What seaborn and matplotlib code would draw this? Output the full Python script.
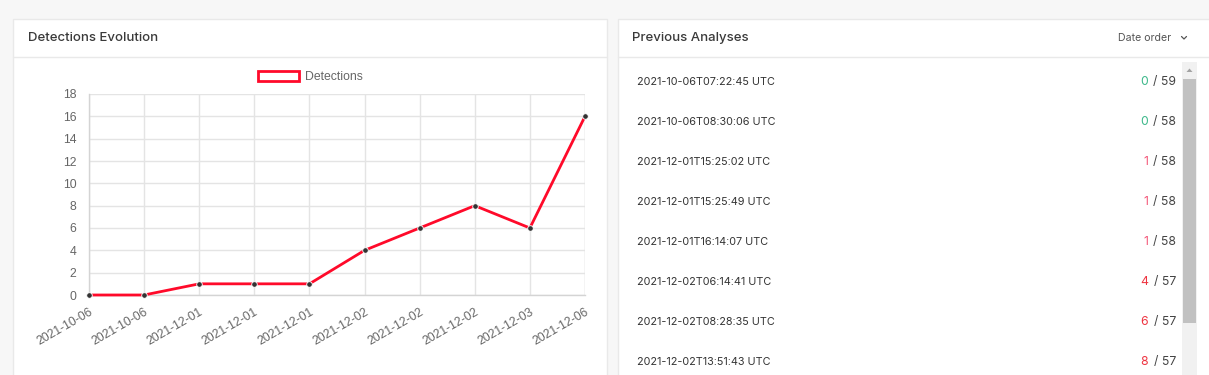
import matplotlib
matplotlib.use("Agg")
import matplotlib.pyplot as plt
import seaborn as sns
import pandas as pd
from matplotlib.patches import Rectangle, Patch, Polygon

# ---------------- data ----------------
dates = ["2021-10-06", "2021-10-06", "2021-12-01", "2021-12-01", "2021-12-01",
         "2021-12-02", "2021-12-02", "2021-12-02", "2021-12-03", "2021-12-06"]
detections = [0, 0, 1, 1, 1, 4, 6, 8, 6, 16]
y_ticks = [0, 2, 4, 6, 8, 10, 12, 14, 16, 18]

analysis_times = ["2021-10-06T07:22:45 UTC", "2021-10-06T08:30:06 UTC",
                  "2021-12-01T15:25:02 UTC", "2021-12-01T15:25:49 UTC",
                  "2021-12-01T16:14:07 UTC", "2021-12-02T06:14:41 UTC",
                  "2021-12-02T08:28:35 UTC", "2021-12-02T13:51:43 UTC"]
analysis_detected = [0, 0, 1, 1, 1, 4, 6, 8]
analysis_total = [59, 58, 58, 58, 58, 57, 57, 57]

panel_left_title = "Detections Evolution"
panel_right_title = "Previous Analyses"
sort_label = "Date order"
series_name = "Detections"

# ---------------- style ----------------
sns.set_theme(style="white")
plt.rcParams["font.family"] = ["Liberation Sans", "DejaVu Sans"]

W, H = 1209, 375
fig = plt.figure(figsize=(W / 100, H / 100), dpi=100)
fig.patch.set_facecolor("#f7f7f7")

# background layer in pixel coordinates
bg = fig.add_axes([0, 0, 1, 1], zorder=-10)
bg.set_xlim(0, W)
bg.set_ylim(H, 0)
bg.axis("off")

border = "#e9e9e9"
# left panel
bg.add_patch(Rectangle((13, 19), 594, 370, facecolor="white", edgecolor=border, lw=1))
bg.plot([13, 607], [56.5, 56.5], color=border, lw=1)
# right panel
bg.add_patch(Rectangle((618, 19), 600, 370, facecolor="white", edgecolor=border, lw=1))
bg.plot([618, 1209], [56.5, 56.5], color=border, lw=1)

title_font = ["Inter", "DejaVu Sans"]
bg.text(28, 38, panel_left_title, fontsize=9.5, color="#3a3a3a", va="center", ha="left",
        family=title_font, fontweight="medium")
bg.text(632, 38, panel_right_title, fontsize=9.5, color="#3a3a3a", va="center", ha="left",
        family=title_font, fontweight="medium")
bg.text(1171, 38, sort_label, fontsize=7.6, color="#555555", va="center", ha="right",
        family=title_font)
bg.plot([1181.5, 1184, 1186.5], [36.5, 39, 36.5], color="#555555", lw=0.9)

# scrollbar
bg.add_patch(Rectangle((1182, 62), 15, 320, facecolor="#f1f1f1", edgecolor="none"))
bg.add_patch(Rectangle((1183, 79), 13, 244, facecolor="#c1c1c1", edgecolor="none"))
bg.add_patch(Polygon([[1186.5, 72], [1192.5, 72], [1189.5, 68.5]], facecolor="#a3a3a3",
                     edgecolor="none"))

# rows of previous analyses
def det_color(v):
    if v == 0:
        return "#3cb88a"
    if v <= 2:
        return "#f4587a"
    return "#ee3340"

row_y0, row_dy = 82, 40
for i, (t, d, tot) in enumerate(zip(analysis_times, analysis_detected, analysis_total)):
    yy = row_y0 + i * row_dy
    bg.text(637, yy, t, fontsize=7.8, color="#333333", va="center", ha="left",
            family=title_font)
    bg.text(1176, yy, f"/ {tot}", fontsize=8.8, color="#444444", va="center", ha="right",
            family=title_font)
    bg.text(1148, yy, f"{d}", fontsize=8.8, color=det_color(d), va="center", ha="right",
            family=title_font)

# ---------------- chart ----------------
ax_l, ax_r, ax_t, ax_b = 89, 585, 94, 295
ax = fig.add_axes([ax_l / W, 1 - ax_b / H, (ax_r - ax_l) / W, (ax_b - ax_t) / H])
ax.set_facecolor("white")

df = pd.DataFrame({"idx": range(len(detections)), "value": detections})
line_color = "#ff0a2a"
sns.lineplot(data=df, x="idx", y="value", ax=ax, color=line_color, lw=2,
             marker="o", markersize=4, markerfacecolor="#333333",
             markeredgecolor="white", markeredgewidth=0.6, clip_on=False, zorder=5)

ax.set_xlim(0, len(detections) - 1)
ax.set_ylim(y_ticks[0], y_ticks[-1])
ax.set_yticks(y_ticks)
ax.set_xticks(range(len(dates)))
ax.set_xticklabels(dates, rotation=30, ha="right", rotation_mode="anchor")
ax.set_xlabel("")
ax.set_ylabel("")
ax.grid(True, color="#e4e4e4", lw=1)
ax.set_axisbelow(True)
for s in ["top", "right"]:
    ax.spines[s].set_visible(False)
for s in ["left", "bottom"]:
    ax.spines[s].set_color("#d4d4d4")
    ax.spines[s].set_linewidth(1)
ax.tick_params(axis="both", which="both", length=7, width=1, color="#e4e4e4",
               labelcolor="#666666", labelsize=8.8, pad=2)
ax.tick_params(axis="x", pad=3)
ax.tick_params(axis="x", length=5)
ax.plot([1, 1], [0, 1], transform=ax.transAxes, color="#e4e4e4", lw=1, zorder=0)

leg_handle = Patch(facecolor="white", edgecolor=line_color, lw=2)
fig.legend(handles=[leg_handle], labels=[series_name], loc="center",
           bbox_to_anchor=(310 / W, 1 - 77 / H), frameon=False, fontsize=8.8,
           handlelength=3.4, handleheight=0.9, handletextpad=0.45, labelcolor="#666666")

fig.savefig("out.png", dpi=100, facecolor=fig.get_facecolor())
